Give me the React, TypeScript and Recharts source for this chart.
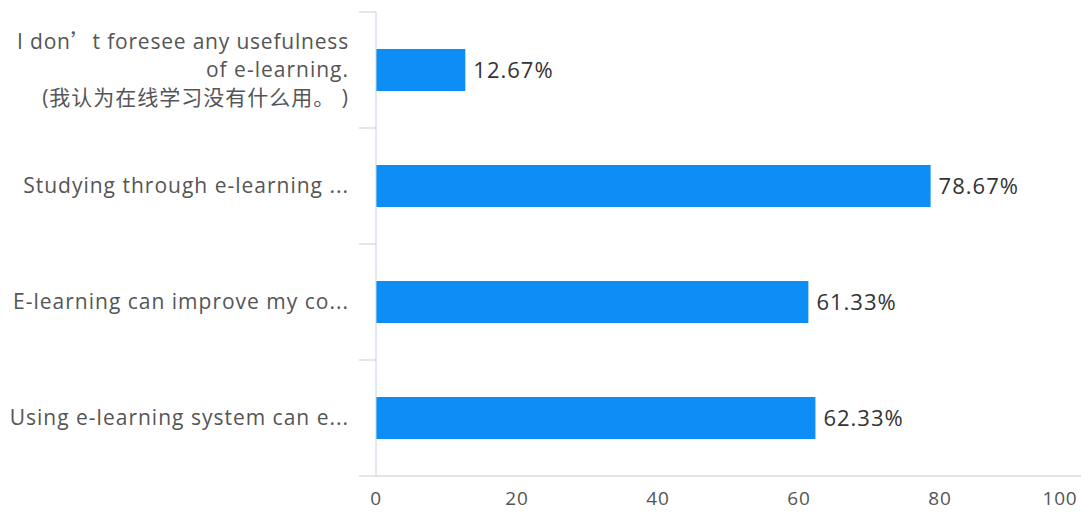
import { BarChart, Bar, XAxis, YAxis, LabelList } from "recharts";

// survey statements as shown on the axis (long ones are cut off with "...")
const CATEGORIES = [
  "I don’t foresee any usefulness\nof e-learning.\n(我认为在线学习没有什么用。 )",
  "Studying through e-learning ...",
  "E-learning can improve my co...",
  "Using e-learning system can e...",
];
const PERCENTS = [12.67, 78.67, 61.33, 62.33];
const X_TICKS = [0, 20, 40, 60, 80, 100];

const data = CATEGORIES.map((name, i) => ({ name, value: PERCENTS[i] }));

const FONT = '"Open Sans", "Noto Sans CJK SC", sans-serif';
const CJK = '"Noto Sans CJK SC"';
const LAST = CATEGORIES[CATEGORIES.length - 1];

// the curly apostrophe comes out full width in the original, so draw it with the CJK face
function withApostrophe(line: string) {
  const parts = line.split("’");
  return parts.map((p, i) => (
    <tspan key={i}>
      {p}
      {i < parts.length - 1 && <tspan fontFamily={CJK}>’</tspan>}
    </tspan>
  ));
}

function CategoryTick(props: any) {
  const { x, y, payload } = props;
  const half = payload.offset ?? 58;
  const lines = String(payload.value).split("\n");
  const axisX = x + 8;
  const lineH = 28;
  const startY = y - ((lines.length - 1) * lineH) / 2;
  return (
    <g>
      <line x1={axisX - 17} x2={axisX} y1={y - half} y2={y - half} stroke="#c8ccd2" />
      {payload.value === LAST && (
        <line x1={axisX - 17} x2={axisX} y1={y + half} y2={y + half} stroke="#c8ccd2" />
      )}
      {lines.map((l, i) => (
        <text
          key={i}
          x={axisX - 27}
          y={startY + i * lineH}
          dy="0.35em"
          textAnchor="end"
          fill="#555"
          fontSize={21}
          letterSpacing={i === 0 && lines.length > 1 ? 0.8 : 1}
          fontFamily={FONT}
        >
          {withApostrophe(l)}
        </text>
      ))}
    </g>
  );
}

function ValueTick(props: any) {
  const { x, y, payload } = props;
  const last = payload.value === X_TICKS[X_TICKS.length - 1];
  return (
    <text
      x={last ? x - 18 : x}
      y={y}
      dy="0.71em"
      textAnchor="middle"
      fill="#555"
      fontSize={19}
      letterSpacing={0.8}
      fontFamily={FONT}
    >
      {payload.value}
    </text>
  );
}

export default function App() {
  return (
    <div style={{ position: "absolute", left: 0, top: 0, background: "#fff" }}>
      <BarChart
        width={1090}
        height={515}
        data={data}
        layout="vertical"
        margin={{ top: 12, right: 9, bottom: 0, left: 0 }}
      >
        <XAxis
          type="number"
          domain={[0, 100]}
          ticks={X_TICKS}
          tickLine={false}
          tickSize={0}
          tickMargin={16}
          height={39}
          stroke="#c8c8c8"
          tick={<ValueTick />}
        />
        <YAxis
          type="category"
          dataKey="name"
          width={376}
          tickLine={false}
          tickSize={0}
          tickMargin={8}
          stroke="#c6d2e0"
          interval={0}
          tick={<CategoryTick />}
        />
        <Bar dataKey="value" fill="#0d8ef7" barSize={42} isAnimationActive={false}>
          <LabelList
            dataKey="value"
            position="right"
            offset={8}
            formatter={(v: any) => `${Number(v).toFixed(2)}%`}
            fill="#333"
            fontSize={22}
            letterSpacing={1}
            fontFamily={FONT}
          />
        </Bar>
      </BarChart>
    </div>
  );
}
